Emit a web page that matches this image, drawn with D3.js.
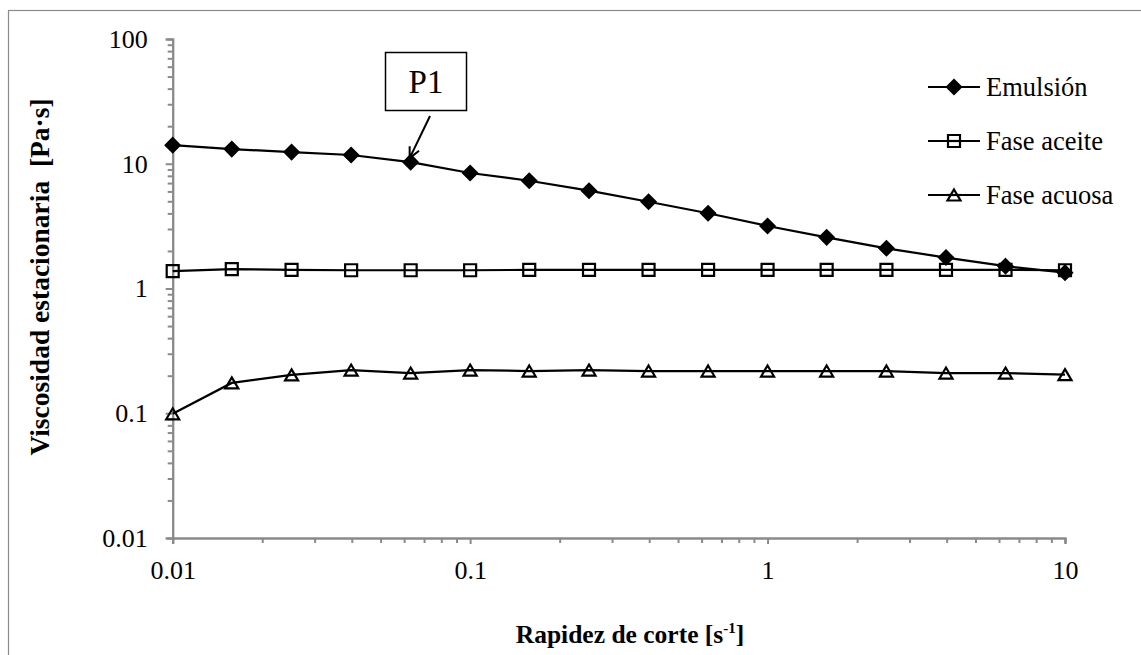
<!DOCTYPE html>
<html>
<head>
<meta charset="utf-8">
<script src="https://cdn.jsdelivr.net/npm/d3@7/dist/d3.min.js"></script>
<style>
  html, body { margin: 0; padding: 0; background: #fff; }
  svg { display: block; }
  text { font-family: "Liberation Serif", "DejaVu Serif", serif; fill: #000; }
</style>
</head>
<body>
<script>
// Shear rate (s^-1): five points per decade
const shearRate = [0.01, 0.0158, 0.0251, 0.0398, 0.0631, 0.1, 0.158, 0.251, 0.398, 0.631, 1, 1.58, 2.51, 3.98, 6.31, 10];
// Steady-state viscosity (Pa·s)
const emulsion = [14.1, 13.1, 12.4, 11.75, 10.3, 8.43, 7.31, 6.08, 4.96, 4.01, 3.17, 2.57, 2.10, 1.77, 1.51, 1.34];
const oilPhase = [1.38, 1.43, 1.41, 1.40, 1.40, 1.40, 1.41, 1.41, 1.41, 1.41, 1.41, 1.41, 1.41, 1.41, 1.41, 1.40];
const waterPhase = [0.099, 0.175, 0.203, 0.222, 0.210, 0.222, 0.218, 0.222, 0.218, 0.218, 0.218, 0.218, 0.218, 0.210, 0.210, 0.204];
const seriesNames = ["Emulsión", "Fase aceite", "Fase acuosa"];
const xTickValues = [0.01, 0.1, 1, 10];
const yTickValues = [0.01, 0.1, 1, 10, 100];
const xTickLabels = ["0.01", "0.1", "1", "10"];
const yTickLabels = ["0.01", "0.1", "1", "10", "100"];
const annotationText = "P1";
const annotationIndex = 4;

const W = 1141, H = 655;
const svg = d3.select("body").append("svg").attr("width", W).attr("height", H);

// chart frame
svg.append("rect")
  .attr("x", 8.5).attr("y", 10.5).attr("width", 1300).attr("height", 800)
  .attr("fill", "none").attr("stroke", "#8a8a8a").attr("stroke-width", 1.2);

const x = d3.scaleLog().domain([0.01, 10]).range([172.7, 1065]);
const y = d3.scaleLog().domain([0.01, 100]).range([538, 39]);
const axisColor = "#8a8a8a";

function minorTicks(domain) {
  const out = [];
  for (let e = Math.round(Math.log10(domain[0])); e < Math.round(Math.log10(domain[1])); e++) {
    for (let m = 2; m <= 9; m++) out.push(m * Math.pow(10, e));
  }
  return out;
}

function styleAxis(g) {
  g.select(".domain").attr("stroke", axisColor).attr("stroke-width", 2);
  g.selectAll(".tick line").attr("stroke", axisColor).attr("stroke-width", 2);
  g.selectAll(".tick text").attr("font-size", 26).attr("font-family", "Liberation Serif").attr("fill", "#000");
}

// y axis (minor, then major)
const yMinor = svg.append("g").attr("transform", "translate(172.7,0)")
  .call(d3.axisLeft(y).tickValues(minorTicks(y.domain())).tickSize(5).tickFormat(""));
styleAxis(yMinor);
const yMajor = svg.append("g").attr("transform", "translate(172.7,0)")
  .call(d3.axisLeft(y).tickValues(yTickValues).tickSize(7).tickPadding(18)
    .tickFormat((d, i) => yTickLabels[i]));
styleAxis(yMajor);

// x axis (minor, then major)
const xMinor = svg.append("g").attr("transform", "translate(0,538)")
  .call(d3.axisBottom(x).tickValues(minorTicks(x.domain())).tickSize(5).tickFormat(""));
styleAxis(xMinor);
const xMajor = svg.append("g").attr("transform", "translate(0,538)")
  .call(d3.axisBottom(x).tickValues(xTickValues).tickSize(6).tickPadding(17)
    .tickFormat((d, i) => xTickLabels[i]));
styleAxis(xMajor);

// axis titles
svg.append("text")
  .attr("x", 630).attr("y", 643)
  .attr("text-anchor", "middle").attr("font-size", 25.5).attr("font-weight", "bold")
  .call(t => {
    t.append("tspan").text("Rapidez de corte [s");
    t.append("tspan").attr("font-size", 15).attr("dy", -10).text("-1");
    t.append("tspan").attr("dy", 10).text("]");
  });

svg.append("text")
  .attr("transform", "translate(49,277) rotate(-90)")
  .attr("text-anchor", "middle").attr("font-size", 27.5).attr("font-weight", "bold")
  .style("white-space", "pre")
  .text("Viscosidad estacionaria  [Pa·s]");

// marker shapes
const markers = {
  diamond: "M0,-7L7,0L0,7L-7,0Z",
  square: "M-6,-6H6V6H-6Z",
  triangle: "M0,-5.5L6.5,5.5H-6.5Z"
};
const series = [
  { name: seriesNames[0], values: emulsion, marker: "diamond", fill: "#000" },
  { name: seriesNames[1], values: oilPhase, marker: "square", fill: "none" },
  { name: seriesNames[2], values: waterPhase, marker: "triangle", fill: "none" }
];

const line = d3.line().x(d => x(d[0])).y(d => y(d[1]));

series.forEach(s => {
  const pts = shearRate.map((r, i) => [r, s.values[i]]);
  const g = svg.append("g");
  g.append("path").attr("d", line(pts))
    .attr("fill", "none").attr("stroke", "#000").attr("stroke-width", 2.2);
  g.selectAll("path.m").data(pts).join("path").attr("class", "m")
    .attr("transform", d => `translate(${x(d[0])},${y(d[1])})`)
    .attr("d", markers[s.marker])
    .attr("fill", s.fill).attr("stroke", "#000").attr("stroke-width", 2.2)
    .attr("stroke-linejoin", "miter");
});

// legend
const legend = svg.append("g");
series.forEach((s, i) => {
  const cy = 87 + i * 54;
  legend.append("line").attr("x1", 928).attr("x2", 980).attr("y1", cy).attr("y2", cy)
    .attr("stroke", "#000").attr("stroke-width", 2.2);
  legend.append("path").attr("transform", `translate(954,${cy})`)
    .attr("d", markers[s.marker]).attr("fill", s.fill === "none" ? "#fff" : s.fill)
    .attr("stroke", "#000").attr("stroke-width", 2.2);
  if (s.fill === "none") {
    legend.append("line").attr("x1", 947).attr("x2", 961).attr("y1", cy).attr("y2", cy)
      .attr("stroke", "#000").attr("stroke-width", 2.2);
  }
  legend.append("text").attr("x", 986).attr("y", cy + 8.5)
    .attr("font-size", 26.5).text(s.name);
});

// annotation box with arrow pointing at the P1 point
const px = x(shearRate[annotationIndex]), py = y(emulsion[annotationIndex]);
svg.append("rect").attr("x", 385.5).attr("y", 52.5).attr("width", 81).attr("height", 58)
  .attr("fill", "#fff").attr("stroke", "#000").attr("stroke-width", 1.5);
svg.append("text").attr("x", 426).attr("y", 93).attr("text-anchor", "middle")
  .attr("font-size", 33).text(annotationText);

const sx = 430, sy = 116, tx = px - 1, ty = py - 4;
const ang = Math.atan2(ty - sy, tx - sx);
const headLen = 12, spread = 0.45;
svg.append("line").attr("x1", sx).attr("y1", sy).attr("x2", tx).attr("y2", ty)
  .attr("stroke", "#000").attr("stroke-width", 2);
svg.append("path")
  .attr("d", `M${tx - headLen * Math.cos(ang - spread)},${ty - headLen * Math.sin(ang - spread)}L${tx},${ty}L${tx - headLen * Math.cos(ang + spread)},${ty - headLen * Math.sin(ang + spread)}`)
  .attr("fill", "none").attr("stroke", "#000").attr("stroke-width", 2);
</script>
</body>
</html>
